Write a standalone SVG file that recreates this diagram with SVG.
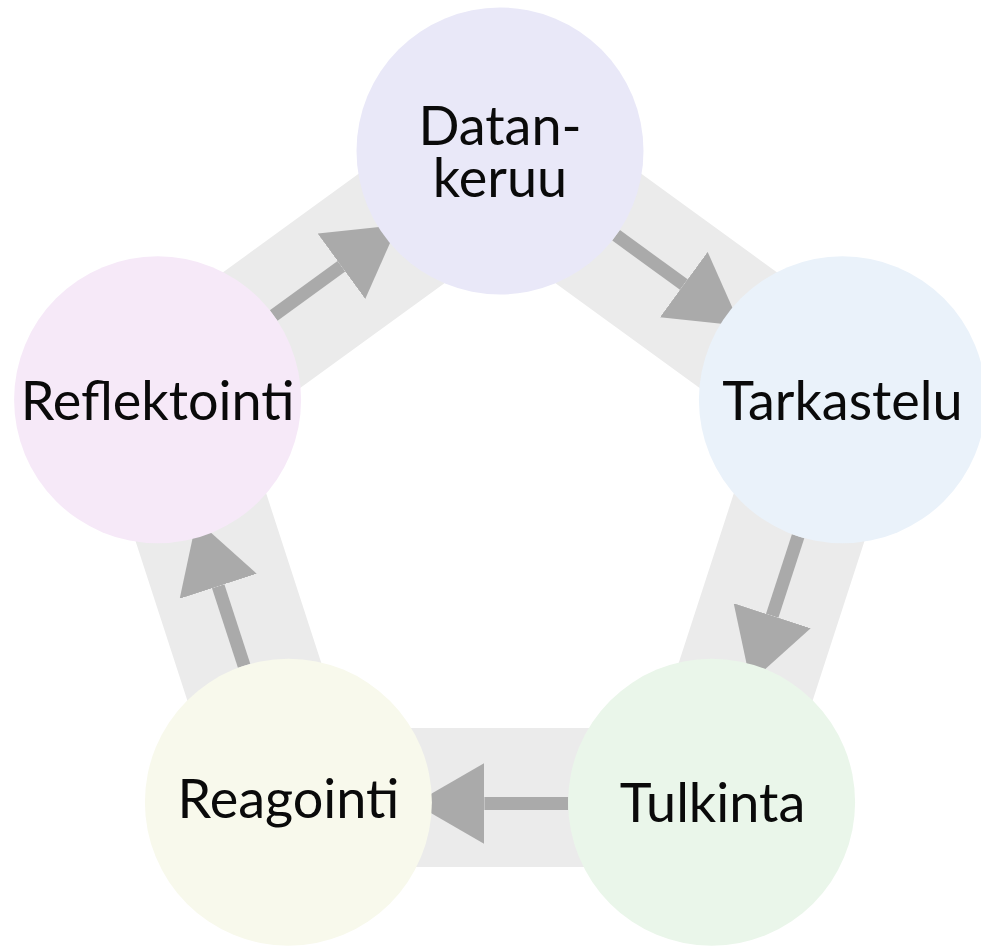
<svg xmlns="http://www.w3.org/2000/svg" width="981" height="947" viewBox="0 0 981 947">
<style>
.band{fill:none;stroke:#ebebeb;stroke-width:139;stroke-linejoin:miter}
.arr{stroke:#aaaaaa;stroke-width:13;fill:none;marker-end:url(#head)}
.lbl{font-family:Lato,"Noto Sans","Liberation Sans",sans-serif;font-size:54px;fill:#0a0a0a;text-anchor:middle}
</style>
<defs>
<marker id="head" markerUnits="userSpaceOnUse" markerWidth="70" markerHeight="81" viewBox="0 0 70 81" refX="0" refY="40.5" orient="auto">
<path d="M0,0 L70,40.5 L0,81 z" fill="#aaaaaa"/>
</marker>
</defs>
<rect width="981" height="947" fill="#ffffff"/>
<g id="connectors">
<polygon class="band" points="500,157 836.7,401.6 708.1,797.4 291.9,797.4 163.3,401.6"/>
<line class="arr" x1="616.1" y1="235.3" x2="683.8" y2="284.6"/>
<line class="arr" x1="798.1" y1="536.3" x2="772.2" y2="615.8"/>
<line class="arr" x1="568.1" y1="803.5" x2="484.4" y2="803.5"/>
<line class="arr" x1="244.1" y1="665.7" x2="218.2" y2="586.2"/>
<line class="arr" x1="273.7" y1="315.5" x2="341.4" y2="266.2"/>
</g>
<g id="datankeruu">
<circle cx="500" cy="151" r="143.5" fill="#e9e8f8"/>
<text class="lbl" x="500" y="145"><tspan x="500" y="145">Datan-</tspan><tspan x="500" y="197">keruu</tspan></text>
</g>
<g id="tarkastelu">
<circle cx="842.4" cy="399.8" r="143.5" fill="#eaf2fa"/>
<text class="lbl" x="842.4" y="420">Tarkastelu</text>
</g>
<g id="tulkinta">
<circle cx="711.6" cy="802.2" r="143.5" fill="#eaf6ea"/>
<text class="lbl" x="712.5" y="822">Tulkinta</text>
</g>
<g id="reagointi">
<circle cx="288.4" cy="802.2" r="143.5" fill="#f8f9ec"/>
<text class="lbl" x="288.4" y="818">Reagointi</text>
</g>
<g id="reflektointi">
<circle cx="157.6" cy="399.8" r="143.5" fill="#f6e9f8"/>
<text class="lbl" x="157.6" y="420">Reflektointi</text>
</g>
</svg>
